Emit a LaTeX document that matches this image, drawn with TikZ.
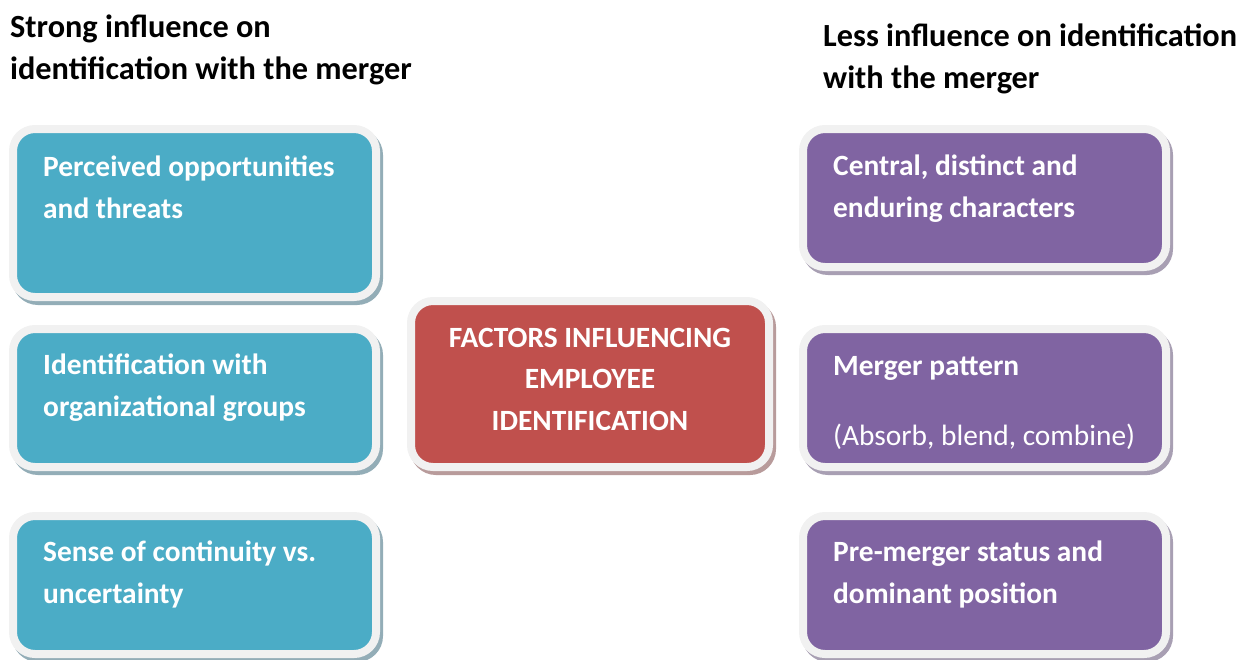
\documentclass[tikz,border=0pt]{standalone}
\usepackage{fontspec}
\setmainfont{Carlito}
\usetikzlibrary{shadows}

\definecolor{strongfill}{HTML}{4BACC6}
\definecolor{lessfill}{HTML}{8064A2}
\definecolor{corefill}{HTML}{C0504D}
\definecolor{framegray}{HTML}{F1F1F1}
\definecolor{strongshade}{HTML}{93ADB7}
\definecolor{lessshade}{HTML}{A89FB3}
\definecolor{coreshade}{HTML}{B89B9B}

\begin{document}
\begin{tikzpicture}[x=1pt, y=-1pt,
    factor/.style={draw=framegray, line width=8pt, rounded corners=22pt,
      minimum width=363pt, minimum height=138pt, inner sep=0pt},
    strong/.style={factor, fill=strongfill,
      drop shadow={shadow xshift=3pt, shadow yshift=-4pt, opacity=1,
        fill=strongshade, draw=strongshade, line width=8pt}},
    less/.style={factor, fill=lessfill,
      drop shadow={shadow xshift=3pt, shadow yshift=-4pt, opacity=1,
        fill=lessshade, draw=lessshade, line width=8pt}},
    core/.style={factor, fill=corefill, minimum width=358pt, minimum height=166pt,
      drop shadow={shadow xshift=3pt, shadow yshift=-4pt, opacity=1,
        fill=coreshade, draw=coreshade, line width=8pt}},
    boxtext/.style={text=white, font=\bfseries\fontsize{29.4}{41.5}\selectfont,
      align=left, inner sep=0pt, anchor=base west},
    heading/.style={font=\bfseries\fontsize{32.3}{42}\selectfont,
      align=left, inner sep=0pt, anchor=base west}]
  \useasboundingbox (0,0) rectangle (1251,659);

  % headings (anchored on the last line)
  \node[heading] (strongtitle) at (10,79) {Strong influence on\\identification with the merger};
  \node[heading] (lesstitle) at (823,88) {Less influence on identification\\with the merger};

  % strong influence
  \node[strong, minimum height=168pt] (threats) at (194.5,213) {};
  \node[strong] (groups) at (194.5,398) {};
  \node[strong] (continuity) at (194.5,585) {};
  \node[boxtext] (threatstext) at (43,218) {Perceived opportunities\\and threats};
  \node[boxtext] (groupstext) at (43,416) {Identification with\\organizational groups};
  \node[boxtext] (continuitytext) at (43,603) {Sense of continuity vs.\\uncertainty};

  % centre
  \node[core] (factors) at (590,384) {};
  \node[boxtext, align=center, anchor=base] (factorstext) at (590,430)
    {FACTORS INFLUENCING\\EMPLOYEE\\IDENTIFICATION};

  % less influence
  \node[less] (characters) at (984.5,198) {};
  \node[less] (pattern) at (984.5,398) {};
  \node[less] (status) at (984.5,585) {};
  \node[boxtext] (characterstext) at (833,217) {Central, distinct and\\enduring characters};
  \node[boxtext] (patterntext) at (833,445) {Merger pattern\\[28pt]{\mdseries (Absorb, blend, combine)}};
  \node[boxtext] (statustext) at (833,603) {Pre-merger status and\\dominant position};
\end{tikzpicture}
\end{document}
